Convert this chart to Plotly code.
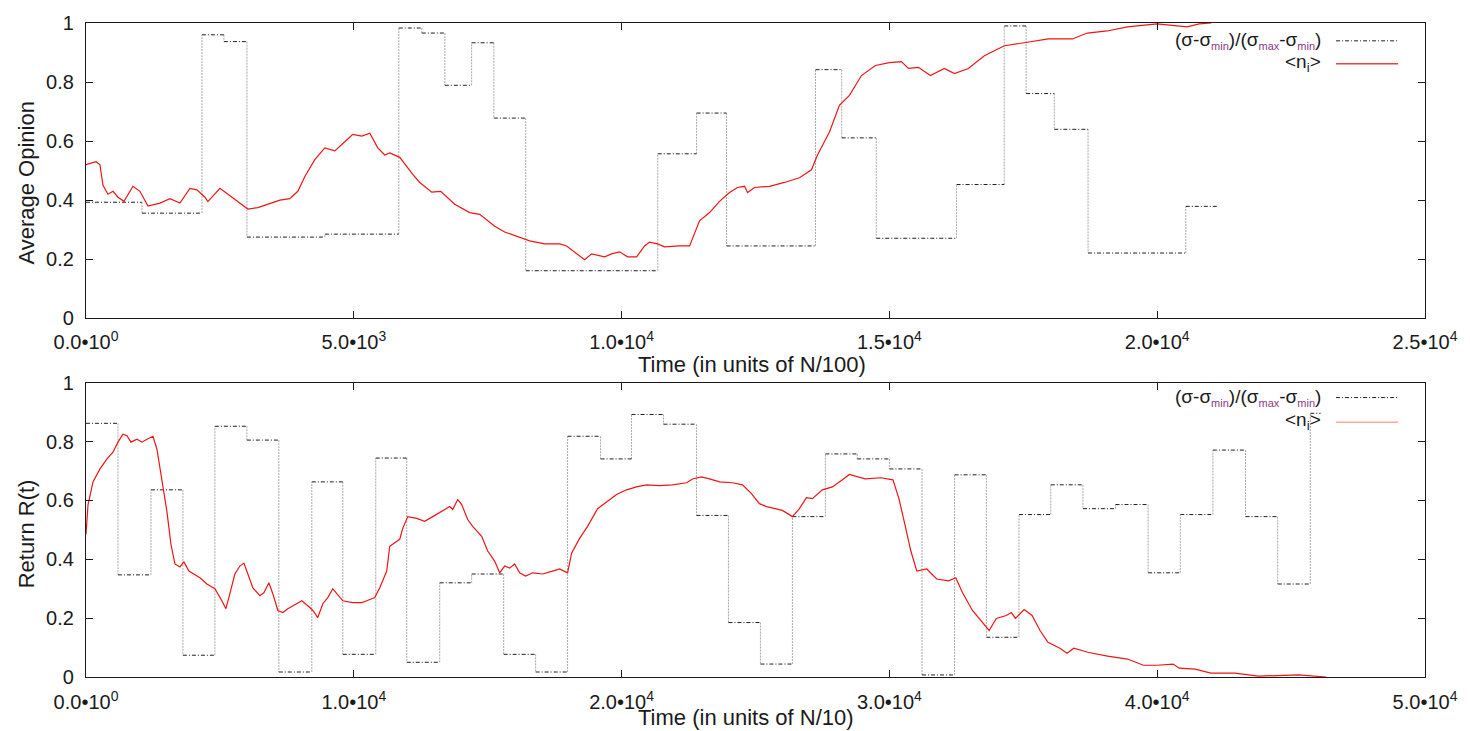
import plotly.graph_objects as go

# ---------------- top panel: opinion dynamics (time in units of N/100) ----------------
top_step_edges = [0, 1045, 2165, 2575, 3005, 4460, 5840, 6270, 6700, 7200, 7615, 8210,
                  10675, 11400, 11960, 13620, 14110, 14755, 16254, 17144, 17552, 18079,
                  18709, 20534, 21113]
top_step_levels = [0.393, 0.356, 0.96, 0.937, 0.275, 0.285, 0.983, 0.966, 0.789, 0.933,
                   0.678, 0.161, 0.557, 0.695, 0.245, 0.842, 0.611, 0.271, 0.453, 0.99,
                   0.761, 0.640, 0.221, 0.379]

top_opinion_t = [0, 187, 261, 317, 410, 504, 597, 709, 877, 1007, 1157, 1381, 1567, 1754,
                 1940, 2071, 2220, 2276, 2500, 2649, 2873, 3022, 3209, 3433, 3619, 3806,
                 3955, 4086, 4272, 4459, 4646, 4832, 4981, 5149, 5299, 5448, 5578, 5672,
                 5858, 6101, 6231, 6455, 6623, 6884, 7164, 7351, 7631, 7817, 8097, 8284,
                 8564, 8843, 8974, 9179, 9310, 9440, 9683, 9813, 9963, 10112, 10280, 10429,
                 10522, 10672, 10802, 11082, 11269, 11455, 11642, 11829, 12015, 12164,
                 12295, 12351, 12482, 12762, 13041, 13321, 13545, 13657, 13881, 14067,
                 14254, 14478, 14739, 15000, 15224, 15355, 15542, 15765, 16026, 16213,
                 16474, 16773, 17146, 17519, 17967, 18415, 18694, 19068, 19441, 20000,
                 20560, 20784, 21008]
top_opinion_v = [0.52, 0.53, 0.52, 0.45, 0.42, 0.43, 0.41, 0.396, 0.447, 0.43, 0.38, 0.39,
                 0.405, 0.39, 0.44, 0.435, 0.41, 0.395, 0.44, 0.42, 0.39, 0.37, 0.375, 0.39,
                 0.40, 0.405, 0.43, 0.48, 0.537, 0.577, 0.567, 0.598, 0.623, 0.617, 0.627,
                 0.577, 0.553, 0.56, 0.545, 0.487, 0.46, 0.427, 0.43, 0.386, 0.358, 0.352,
                 0.312, 0.292, 0.275, 0.262, 0.252, 0.252, 0.245, 0.215, 0.198, 0.218,
                 0.208, 0.218, 0.225, 0.208, 0.208, 0.245, 0.258, 0.252, 0.242, 0.245,
                 0.245, 0.33, 0.358, 0.396, 0.426, 0.443, 0.447, 0.426, 0.443, 0.447, 0.46,
                 0.476, 0.503, 0.553, 0.631, 0.721, 0.755, 0.822, 0.856, 0.866, 0.869,
                 0.846, 0.85, 0.822, 0.846, 0.829, 0.846, 0.889, 0.923, 0.933, 0.946,
                 0.946, 0.966, 0.973, 0.987, 0.997, 0.987, 0.997, 1.0]

# ---------------- bottom panel: return R(t) (time in units of N/10) ----------------
bot_step_edges = [0, 1194, 2425, 3619, 4813, 6007, 7201, 8432, 9589, 10820, 11977, 13208,
                  14401, 15596, 16790, 17983, 19215, 20371, 21565, 22796, 23990, 25184,
                  26378, 27609, 28798, 30000, 31217, 32434, 33621, 34838, 36025, 37227,
                  38444, 39661, 40863, 42080, 43297, 44499, 45716, 46100]
bot_step_levels = [0.862, 0.347, 0.636, 0.074, 0.852, 0.805, 0.017, 0.663, 0.077, 0.744,
                   0.05, 0.32, 0.35, 0.077, 0.017, 0.818, 0.741, 0.892, 0.859, 0.549,
                   0.185, 0.044, 0.545, 0.758, 0.741, 0.707, 0.007, 0.687, 0.135, 0.552,
                   0.653, 0.572, 0.586, 0.354, 0.552, 0.771, 0.545, 0.316, 0.896]

bot_return_t = [0, 75, 261, 522, 784, 1007, 1194, 1380, 1530, 1679, 1903, 2089, 2276, 2500,
                2649, 2836, 3022, 3171, 3321, 3507, 3656, 3843, 4253, 4514, 4813, 5074,
                5224, 5373, 5559, 5746, 5895, 6044, 6231, 6492, 6641, 6828, 6977, 7164,
                7350, 7537, 7723, 8059, 8283, 8470, 8656, 8843, 9029, 9216, 9365, 9589,
                9962, 10298, 10484, 10783, 10969, 11230, 11342, 11715, 11827, 12014, 12350,
                12648, 12947, 13283, 13581, 13693, 13880, 14029, 14253, 14439, 14626,
                14775, 14999, 15260, 15447, 15633, 15820, 16006, 16193, 16416, 16678,
                17051, 17424, 17685, 17983, 18133, 18431, 18730, 19103, 19439, 19812,
                20185, 20558, 20931, 21416, 21901, 22424, 22647, 22983, 23282, 23655,
                24140, 24513, 24849, 25147, 25408, 25707, 26005, 26378, 26639, 26900,
                27124, 27497, 27870, 28244, 28505, 29095, 29688, 30134, 30356, 30579,
                30801, 31024, 31395, 31766, 32211, 32478, 32731, 33102, 33473, 33725,
                33992, 34363, 34556, 34704, 35031, 35328, 35624, 35921, 36366, 36634,
                36886, 37406, 38147, 38889, 39483, 40002, 40596, 40818, 41412, 42006,
                42896, 43786, 45270, 46309]
bot_return_v = [0.485, 0.585, 0.663, 0.707, 0.741, 0.764, 0.798, 0.825, 0.82, 0.798, 0.808,
                0.798, 0.808, 0.818, 0.774, 0.673, 0.562, 0.451, 0.384, 0.374, 0.391, 0.36,
                0.337, 0.316, 0.30, 0.259, 0.232, 0.283, 0.35, 0.377, 0.387, 0.35, 0.303,
                0.276, 0.286, 0.32, 0.283, 0.226, 0.219, 0.232, 0.242, 0.259, 0.242, 0.226,
                0.202, 0.249, 0.27, 0.30, 0.283, 0.259, 0.253, 0.253, 0.259, 0.27, 0.303,
                0.36, 0.444, 0.468, 0.505, 0.545, 0.539, 0.529, 0.545, 0.562, 0.579, 0.569,
                0.603, 0.586, 0.535, 0.512, 0.495, 0.478, 0.428, 0.394, 0.354, 0.377, 0.37,
                0.384, 0.354, 0.343, 0.354, 0.35, 0.36, 0.367, 0.354, 0.421, 0.471, 0.512,
                0.572, 0.596, 0.62, 0.636, 0.646, 0.653, 0.65, 0.653, 0.66, 0.673, 0.68,
                0.673, 0.663, 0.66, 0.653, 0.623, 0.589, 0.579, 0.572, 0.566, 0.545, 0.572,
                0.609, 0.606, 0.636, 0.646, 0.67, 0.688, 0.673, 0.677, 0.67, 0.606, 0.518,
                0.428, 0.36, 0.367, 0.333, 0.327, 0.337, 0.286, 0.226, 0.185, 0.158, 0.199,
                0.209, 0.219, 0.199, 0.229, 0.209, 0.158, 0.118, 0.098, 0.081, 0.098, 0.084,
                0.071, 0.061, 0.04, 0.04, 0.044, 0.03, 0.027, 0.013, 0.013, 0.003, 0.007,
                0.0]

top_xticks = [0, 5000, 10000, 15000, 20000, 25000]
top_xtick_text = ["0.0•10<sup>0</sup>", "5.0•10<sup>3</sup>", "1.0•10<sup>4</sup>",
                  "1.5•10<sup>4</sup>", "2.0•10<sup>4</sup>", "2.5•10<sup>4</sup>"]
bot_xticks = [0, 10000, 20000, 30000, 40000, 50000]
bot_xtick_text = ["0.0•10<sup>0</sup>", "1.0•10<sup>4</sup>", "2.0•10<sup>4</sup>",
                  "3.0•10<sup>4</sup>", "4.0•10<sup>4</sup>", "5.0•10<sup>4</sup>"]

FONT = "Liberation Sans, Arial, Helvetica, sans-serif"
INK = "#1a1a1a"
RED = "#f01414"


def step_segments(edges, levels):
    """Split a piecewise-constant series into horizontal and vertical pieces."""
    hx, hy, vx, vy = [], [], [], []
    for i, lv in enumerate(levels):
        hx += [edges[i], edges[i + 1], None]
        hy += [lv, lv, None]
        if i + 1 < len(levels):
            vx += [edges[i + 1], edges[i + 1], None]
            vy += [lv, levels[i + 1], None]
    return hx, hy, vx, vy


fig = go.Figure()

for (edges, levels, xa, ya) in [(top_step_edges, top_step_levels, "x", "y"),
                                (bot_step_edges, bot_step_levels, "x2", "y2")]:
    hx, hy, vx, vy = step_segments(edges, levels)
    fig.add_trace(go.Scatter(x=vx, y=vy, xaxis=xa, yaxis=ya, mode="lines",
                             line=dict(color="#a8a8a8", width=1, dash="2px,1px"),
                             hoverinfo="skip", showlegend=False))
    fig.add_trace(go.Scatter(x=hx, y=hy, xaxis=xa, yaxis=ya, mode="lines",
                             line=dict(color="#202020", width=1, dash="4px,2px,1px,2px"),
                             hoverinfo="skip", showlegend=False))

fig.add_trace(go.Scatter(x=top_opinion_t, y=top_opinion_v, xaxis="x", yaxis="y",
                         mode="lines", line=dict(color=RED, width=1.2), showlegend=False))
fig.add_trace(go.Scatter(x=bot_return_t, y=bot_return_v, xaxis="x2", yaxis="y2",
                         mode="lines", line=dict(color=RED, width=1.2), showlegend=False))

axis_common = dict(showline=True, linecolor=INK, linewidth=1.2, mirror="allticks",
                   ticks="inside", ticklen=7, tickwidth=1, tickcolor=INK,
                   showgrid=False, zeroline=False,
                   tickfont=dict(family=FONT, size=20, color=INK))

fig.update_layout(
    width=1470, height=731,
    margin=dict(l=86, r=44, t=17, b=54),
    paper_bgcolor="white", plot_bgcolor="white",
    showlegend=False,
    xaxis=dict(domain=[0, 1], range=[0, 25000], anchor="y",
               tickvals=top_xticks, ticktext=top_xtick_text,
               ticklabelstandoff=6, **axis_common),
    yaxis=dict(domain=[0.5485, 1], range=[0, 1], anchor="x", dtick=0.2,
               ticklabelstandoff=7, **axis_common),
    xaxis2=dict(domain=[0, 1], range=[0, 50000], anchor="y2",
                tickvals=bot_xticks, ticktext=bot_xtick_text,
                ticklabelstandoff=7, **axis_common),
    yaxis2=dict(domain=[0, 0.45], range=[0, 1], anchor="x2", dtick=0.2,
                ticklabelstandoff=7, **axis_common),
)

W, PL, PB, PH = 1340.0, 86.0, 677.0, 660.0


def px(xp):
    return (xp - PL) / W


def py(yp):
    return (PB - yp) / PH


title_font = dict(family=FONT, size=22, color=INK)
annotations = [
    dict(text="Time (in units of N/100)", x=px(752), y=py(362)),
    dict(text="Time (in units of N/10)", x=px(746), y=py(718)),
    dict(text="Average Opinion", x=px(26), y=py(178), textangle=-90),
    dict(text="Return R(t)", x=px(26), y=py(533), textangle=-90),
]
for a in annotations:
    fig.add_annotation(xref="paper", yref="paper", showarrow=False,
                       xanchor="center", yanchor="middle", font=title_font, **a)

sub = "<sub><span style='color:#8a3a8a;font-size:11px'>{}</span></sub>"
sigma_label = ("(σ-σ" + sub.format("min") + ")/(σ" + sub.format("max") + "-σ"
               + sub.format("min") + ")")
ni_label = "&lt;n<sub>i</sub>&gt;"

legend_font = dict(family=FONT, size=19, color=INK)
for y_sig, y_ni, ni_color in [(35, 57, "#f04040"), (395, 419, "#ffa8a8")]:
    fig.add_annotation(xref="paper", yref="paper", showarrow=False, text=sigma_label,
                       x=px(1324), y=py(y_sig), xanchor="right", yanchor="middle",
                       font=legend_font)
    fig.add_annotation(xref="paper", yref="paper", showarrow=False, text=ni_label,
                       x=px(1324), y=py(y_ni), xanchor="right", yanchor="middle",
                       font=legend_font)
    fig.add_shape(type="line", xref="paper", yref="paper",
                  x0=px(1337), x1=px(1399), y0=py(y_sig), y1=py(y_sig),
                  line=dict(color="#202020", width=1, dash="4px,2px,1px,2px"))
    fig.add_shape(type="line", xref="paper", yref="paper",
                  x0=px(1337), x1=px(1399), y0=py(y_ni + 1), y1=py(y_ni + 1),
                  line=dict(color=ni_color, width=1.5))

fig.write_html("out.html")
